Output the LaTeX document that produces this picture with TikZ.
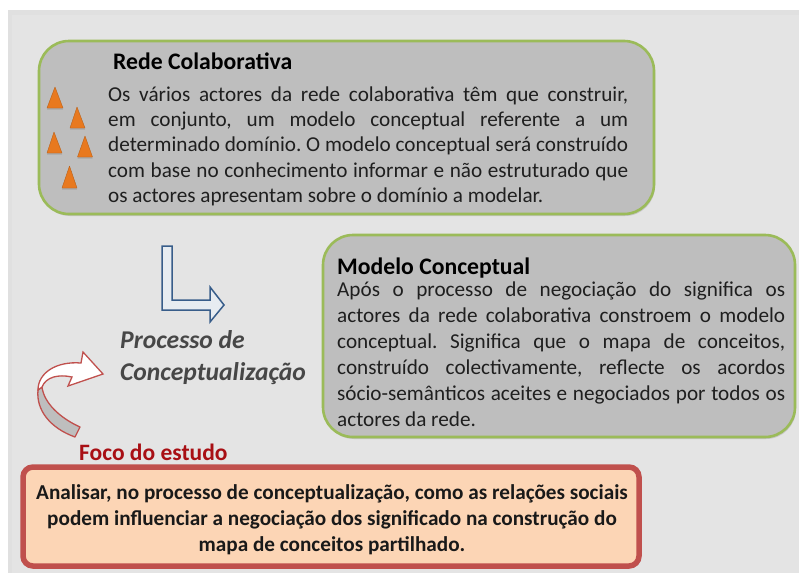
\documentclass[tikz,border=0pt]{standalone}
\usepackage{fontspec}
\setmainfont{Carlito}
\frenchspacing
\usetikzlibrary{shadows}
\definecolor{pagebg}{HTML}{E4E4E4}
\definecolor{boxgrey}{HTML}{BEBEBE}
\definecolor{boxgreen}{HTML}{9BBB59}
\definecolor{boxred}{HTML}{C0504D}
\definecolor{peach}{HTML}{FCD5B5}
\definecolor{darkred}{HTML}{A80F14}
\definecolor{arrowblue}{HTML}{385D8A}
\definecolor{triorange}{HTML}{E8791F}
\tikzset{
  x=1pt,y=-1pt,
  greybox/.style={draw=boxgreen,line width=2.6pt,fill=boxgrey,rounded corners=30pt,
    drop shadow={shadow xshift=1pt,shadow yshift=-2pt,opacity=.3}},
  redbox/.style={draw=boxred,line width=5.5pt,fill=peach,rounded corners=10pt},
  bodytext/.style={inner sep=0pt,anchor=north west,align=justify,text=black!88},
  titletext/.style={inner sep=0pt,anchor=base west,font=\fontsize{23.7}{28}\selectfont\bfseries,text=black},
  tri/.style={fill=triorange,draw=triorange!80!black,line width=.4pt,line join=round,
    drop shadow={shadow xshift=0pt,shadow yshift=-1.5pt,opacity=.35}},
  proc/.style={inner sep=0pt,anchor=base west,text=black!72,font=\fontsize{25.6}{30}\selectfont\bfseries\itshape},
}
\begin{document}
\begin{tikzpicture}
\useasboundingbox (0,0) rectangle (799,573);
\fill[white] (0,0) rectangle (799,573);
\fill[black!12] (8,10) rectangle (799,573);
\fill[pagebg] (12,15) rectangle (799,573);
% boxes
\path[greybox] (39,41) rectangle (654,214);
\path[greybox] (323,235) rectangle (795,437);
\path[redbox] (23,467) rectangle (639,566);
% triangles
\path[tri] (55,87) -- (63,108) -- (47,108) -- cycle;
\path[tri] (77,107) -- (85,128) -- (70,128) -- cycle;
\path[tri] (54,132) -- (62,153) -- (47,153) -- cycle;
\path[tri] (85,136) -- (92.5,157) -- (77.5,157) -- cycle;
\path[tri] (69.5,166) -- (77,188) -- (62,188) -- cycle;
% bent arrow
\draw[arrowblue,line width=1.5pt,line join=miter,fill=white!88!arrowblue]
  (162,246) -- (172,246) -- (172,300) -- (210,300) -- (210,287) -- (224,305)
  -- (210,322) -- (210,310) -- (162,310) -- cycle;
% curved arrow
\fill[boxgrey,draw=boxred,line width=1.3pt,line join=round]
  (80,427) .. controls (60,418) and (44,403) .. (42,387)
  -- (38,390) .. controls (36,410) and (50,428) .. (75,437) -- cycle;
\draw[boxred,line width=1.3pt,line join=miter,fill=white]
  (38,390) .. controls (38,373) and (56,361) .. (81,363) -- (83,352) -- (103,374) -- (68,386)
  -- (72,377) .. controls (58,374) and (46,377) .. (42,387) -- cycle;
% texts
\node[titletext] (t1) at (113,69) {Rede Colaborativa};
\node[bodytext,text width=520pt,font=\fontsize{21.2}{25.2}\selectfont] (b1) at (108,86.5) {Os vários actores da rede colaborativa têm que construir,\linebreak
em conjunto, um modelo conceptual referente a um\linebreak
determinado domínio. O modelo conceptual será construído\linebreak
com base no conhecimento informar e não estruturado que\linebreak
os actores apresentam sobre o domínio a modelar.};
\node[titletext] (t2) at (337,274) {Modelo Conceptual};
\node[bodytext,text width=448pt,font=\fontsize{21.2}{25.9}\selectfont] (b2) at (337,282) {Após o processo de negociação do significa os\linebreak
actores da rede colaborativa constroem o modelo\linebreak
conceptual. Significa que o mapa de conceitos,\linebreak
construído colectivamente, reflecte os acordos\linebreak
sócio-semânticos aceites e negociados por todos os\linebreak
actores da rede.};
\node[proc] (p1) at (120,348) {Processo de};
\node[proc] (p2) at (120,380) {Conceptualização};
\node[inner sep=0pt,anchor=base west,text=darkred,font=\fontsize{23.5}{28}\selectfont\bfseries] (f) at (79,460) {Foco do estudo};
\node[inner sep=0pt,align=center,text=black!90,font=\fontsize{21.2}{26}\selectfont\bfseries] (r) at (332,520)
 {Analisar, no processo de conceptualização, como as relações sociais\\
 podem influenciar a negociação dos significado na construção do\\
 mapa de conceitos partilhado.};
\end{tikzpicture}
\end{document}
